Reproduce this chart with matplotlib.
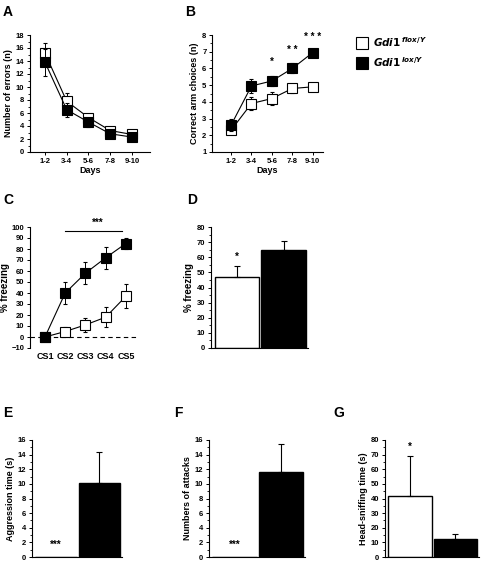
import matplotlib
matplotlib.use("Agg")
import matplotlib.pyplot as plt
from matplotlib.ticker import MultipleLocator

plt.rcParams['font.family'] = ['Liberation Sans', 'DejaVu Sans']
plt.rcParams['font.weight'] = 'bold'
plt.rcParams['axes.labelweight'] = 'bold'
plt.rcParams['axes.linewidth'] = 0.8

W, H = 484, 562

# data
days = ["1-2", "3-4", "5-6", "7-8", "9-10"]
a_flox = [15.2, 7.8, 5.3, 3.3, 2.7]
a_flox_err = [1.6, 1.3, 0.5, 0.4, 0.3]
a_lox = [13.8, 6.5, 4.6, 2.8, 2.3]
a_lox_err = [2.1, 1.1, 0.7, 0.4, 0.3]

b_flox = [2.3, 3.9, 4.2, 4.8, 4.9]
b_flox_err = [0.25, 0.4, 0.4, 0.25, 0.25]
b_lox = [2.6, 4.95, 5.25, 6.0, 6.95]
b_lox_err = [0.35, 0.4, 0.3, 0.3, 0.1]
b_stars = ["", "", "*", "* *", "* * *"]
b_star_y = [0, 0, 6.1, 6.8, 7.6]

cs = ["CS1", "CS2", "CS3", "CS4", "CS5"]
c_flox = [0, 5, 11, 18, 37]
c_flox_err = [1, 4, 6, 9, 11]
c_lox = [0, 40, 58, 72, 85]
c_lox_err = [2, 10, 10, 10, 5]

d_vals = [47, 65]
d_err = [7, 6]
e_vals = [0, 10.1]
e_err = [0, 4.3]
f_vals = [0, 11.6]
f_err = [0, 3.8]
g_vals = [42, 12.5]
g_err = [27, 3.5]

bar_colors = ["white", "black"]


def ax_px(l, t, r, b):
    return fig.add_axes([l / W, 1 - b / H, (r - l) / W, (b - t) / H])


def style(ax, xaxis=True):
    ax.spines['top'].set_visible(False)
    ax.spines['right'].set_visible(False)
    ax.tick_params(labelsize=5.5, length=2.5, width=0.7, pad=1.5)
    ax.tick_params(which='minor', length=1.5, width=0.6)
    if not xaxis:
        ax.set_xticks([])
    for lab in ax.get_xticklabels() + ax.get_yticklabels():
        lab.set_fontweight('bold')


def panel_label(x, y, s):
    fig.text(x / W, 1 - y / H, s, fontsize=10, fontweight='bold', va='center', ha='left')


def lines(ax, x, flox, flox_err, lox, lox_err):
    ax.errorbar(x, flox, yerr=flox_err, color='black', lw=0.8, elinewidth=0.7, capsize=1.5,
                marker='s', ms=7, mfc='white', mec='black', mew=0.8, zorder=3)
    ax.errorbar(x, lox, yerr=lox_err, color='black', lw=0.8, elinewidth=0.7, capsize=1.5,
                marker='s', ms=7, mfc='black', mec='black', mew=0.8, zorder=4)


fig = plt.figure(figsize=(W / 100, H / 100), dpi=100)

# A
ax = ax_px(30, 35, 150, 152)
x = list(range(1, 6))
lines(ax, x, a_flox, a_flox_err, a_lox, a_lox_err)
ax.set_xlim(0.31, 5.83)
ax.set_ylim(0, 18)
ax.set_xticks(x)
ax.set_xticklabels(days)
ax.yaxis.set_major_locator(MultipleLocator(2))
ax.yaxis.set_minor_locator(MultipleLocator(1))
style(ax)
ax.set_ylabel("Number of errors (n)", fontsize=6.5, labelpad=2)
ax.set_xlabel("Days", fontsize=6.5, labelpad=1)
panel_label(3, 12, "A")

# B
ax = ax_px(212, 35, 323, 152)
lines(ax, x, b_flox, b_flox_err, b_lox, b_lox_err)
for xi, s, yv in zip(x, b_stars, b_star_y):
    if s:
        ax.text(xi, yv, s, ha='center', va='bottom', fontsize=7)
ax.set_xlim(0.07, 5.5)
ax.set_ylim(1, 8)
ax.set_xticks(x)
ax.set_xticklabels(days)
ax.yaxis.set_major_locator(MultipleLocator(1))
ax.yaxis.set_minor_locator(MultipleLocator(0.5))
style(ax)
ax.set_ylabel("Correct arm choices (n)", fontsize=6.5, labelpad=2)
ax.set_xlabel("Days", fontsize=6.5, labelpad=1)
panel_label(185, 12, "B")

# legend
h1, = ax.plot([], [], 's', ms=8, mfc='white', mec='black', mew=0.8)
h2, = ax.plot([], [], 's', ms=8, mfc='black', mec='black', mew=0.8)
fig.legend([h1, h2], [r"$\mathbf{\mathit{Gdi1}}^{\,\mathit{flox/Y}}$",
                      r"$\mathbf{\mathit{Gdi1}}^{\,\mathit{lox/Y}}$"],
           loc='upper left', bbox_to_anchor=(352 / W, 1 - 30 / H), frameon=False,
           fontsize=7.5, handlelength=1.0, handletextpad=0.5, labelspacing=0.6,
           borderpad=0)

# C
ax = ax_px(30, 227, 138, 348)
lines(ax, x, c_flox, c_flox_err, c_lox, c_lox_err)
ax.axhline(0, color='black', lw=0.8, ls=(0, (4, 3)), zorder=1)
ax.plot([2, 4.8], [96.5, 96.5], color='black', lw=0.8, clip_on=False)
ax.text(3.6, 99, "***", ha='center', va='bottom', fontsize=7)
ax.set_xlim(0.26, 5.6)
ax.set_ylim(-10, 100)
ax.set_xticks(x)
ax.set_xticklabels(cs)
ax.yaxis.set_major_locator(MultipleLocator(10))
style(ax)
ax.spines['bottom'].set_visible(False)
ax.tick_params(axis='x', length=0, pad=3, labelsize=6.5)
ax.set_ylabel("% freezing", fontsize=7, labelpad=1)
panel_label(3, 200, "C")


def bars(ax, vals, err, ymax, major, minor, ylabel):
    pos = [0, 1]
    ax.bar(pos, vals, width=0.95, color=bar_colors, edgecolor='black', linewidth=1.0)
    for p, v, e in zip(pos, vals, err):
        if e > 0:
            ax.errorbar(p, v, yerr=[[0], [e]], color='black', elinewidth=0.8, capsize=2,
                        capthick=0.8, fmt='none')
    ax.set_xlim(-0.55, 1.52)
    ax.set_ylim(0, ymax)
    ax.yaxis.set_major_locator(MultipleLocator(major))
    ax.yaxis.set_minor_locator(MultipleLocator(minor))
    style(ax, xaxis=False)
    ax.set_ylabel(ylabel, fontsize=6.5, labelpad=2)


# D
ax = ax_px(211, 227, 308, 348)
bars(ax, d_vals, d_err, 80, 10, 5, "% freezing")
ax.yaxis.label.set_size(7)
ax.text(0, 57, "*", ha='center', va='bottom', fontsize=7)
panel_label(187, 200, "D")

# E
ax = ax_px(32, 440, 122, 557)
bars(ax, e_vals, e_err, 16, 2, 1, "Aggression time (s)")
ax.text(0, 1.0, "***", ha='center', va='bottom', fontsize=7)
panel_label(3, 413, "E")

# F
ax = ax_px(209, 440, 305, 557)
bars(ax, f_vals, f_err, 16, 2, 1, "Numbers of attacks")
ax.text(0, 1.0, "***", ha='center', va='bottom', fontsize=7)
panel_label(174, 413, "F")

# G
ax = ax_px(385, 440, 479, 557)
bars(ax, g_vals, g_err, 80, 10, 5, "Head-sniffing time (s)")
ax.text(0, 72, "*", ha='center', va='bottom', fontsize=7)
panel_label(333, 413, "G")

fig.savefig("out.png", dpi=100)
